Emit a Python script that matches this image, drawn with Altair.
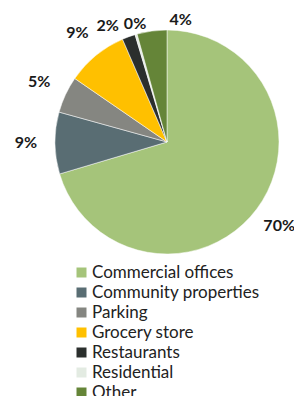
import altair as alt
import pandas as pd

categories = ["Commercial offices", "Community properties", "Parking",
              "Grocery store", "Restaurants", "Residential", "Other"]
values = [70.4, 8.9, 5.3, 8.9, 1.9, 0.3, 4.3]
colors = ["#a5c47a", "#596d73", "#858681", "#ffc000", "#2b2f2d", "#e3ebe2", "#658538"]
top_labels = ["Restaurants", "Residential", "Other"]

df = pd.DataFrame({"category": categories, "value": values,
                   "order": list(range(len(categories)))})

CX, CY = 159, 134

base = alt.Chart(df).transform_calculate(
    label="format(datum.value, '.0f') + '%'"
).encode(
    theta=alt.Theta("value:Q", stack=True),
    order=alt.Order("order:Q"),
    x=alt.value(CX),
    y=alt.value(CY),
)

pie = base.mark_arc(outerRadius=112, stroke="white", strokeWidth=0.5).encode(
    color=alt.Color(
        "category:N",
        scale=alt.Scale(domain=categories, range=colors),
        sort=categories,
        legend=alt.Legend(
            orient="none", legendX=65, legendY=256, title=None,
            symbolType="square", symbolSize=100, symbolStrokeWidth=0,
            labelFontSize=17, labelFont="Lato", labelColor="#222222",
            rowPadding=2, labelOffset=2, labelLimit=300,
        ),
    )
)

txt = dict(font="Lato", fontSize=16, fontWeight="bold", color="#1a1a1a", baseline="middle")

lab_main = base.mark_text(radius=141, align="center", **txt).encode(
    text=alt.condition(
        alt.FieldOneOfPredicate(field="category", oneOf=top_labels + ["Commercial offices"]),
        alt.value(""), alt.Text("label:N"))
)
lab_big = base.mark_text(radius=141, align="right", dx=15, **txt).encode(
    text=alt.condition(alt.datum.category == "Commercial offices", alt.Text("label:N"), alt.value(""))
)
lab_r = base.mark_text(radius=123, align="right", dx=-6, **txt).encode(
    text=alt.condition(alt.datum.category == "Restaurants", alt.Text("label:N"), alt.value(""))
)
lab_c = base.mark_text(radius=123, align="center", dx=2, **txt).encode(
    text=alt.condition(alt.datum.category == "Residential", alt.Text("label:N"), alt.value(""))
)
lab_l = base.mark_text(radius=123, align="left", dx=19, **txt).encode(
    text=alt.condition(alt.datum.category == "Other", alt.Text("label:N"), alt.value(""))
)

chart = alt.layer(pie, lab_main, lab_big, lab_r, lab_c, lab_l).properties(
    width=286, height=388,
    autosize=alt.AutoSizeParams(type="none"),
    padding=0,
).configure_view(stroke=None)

chart.save("out.html", embed_options={"renderer": "svg", "actions": False})
